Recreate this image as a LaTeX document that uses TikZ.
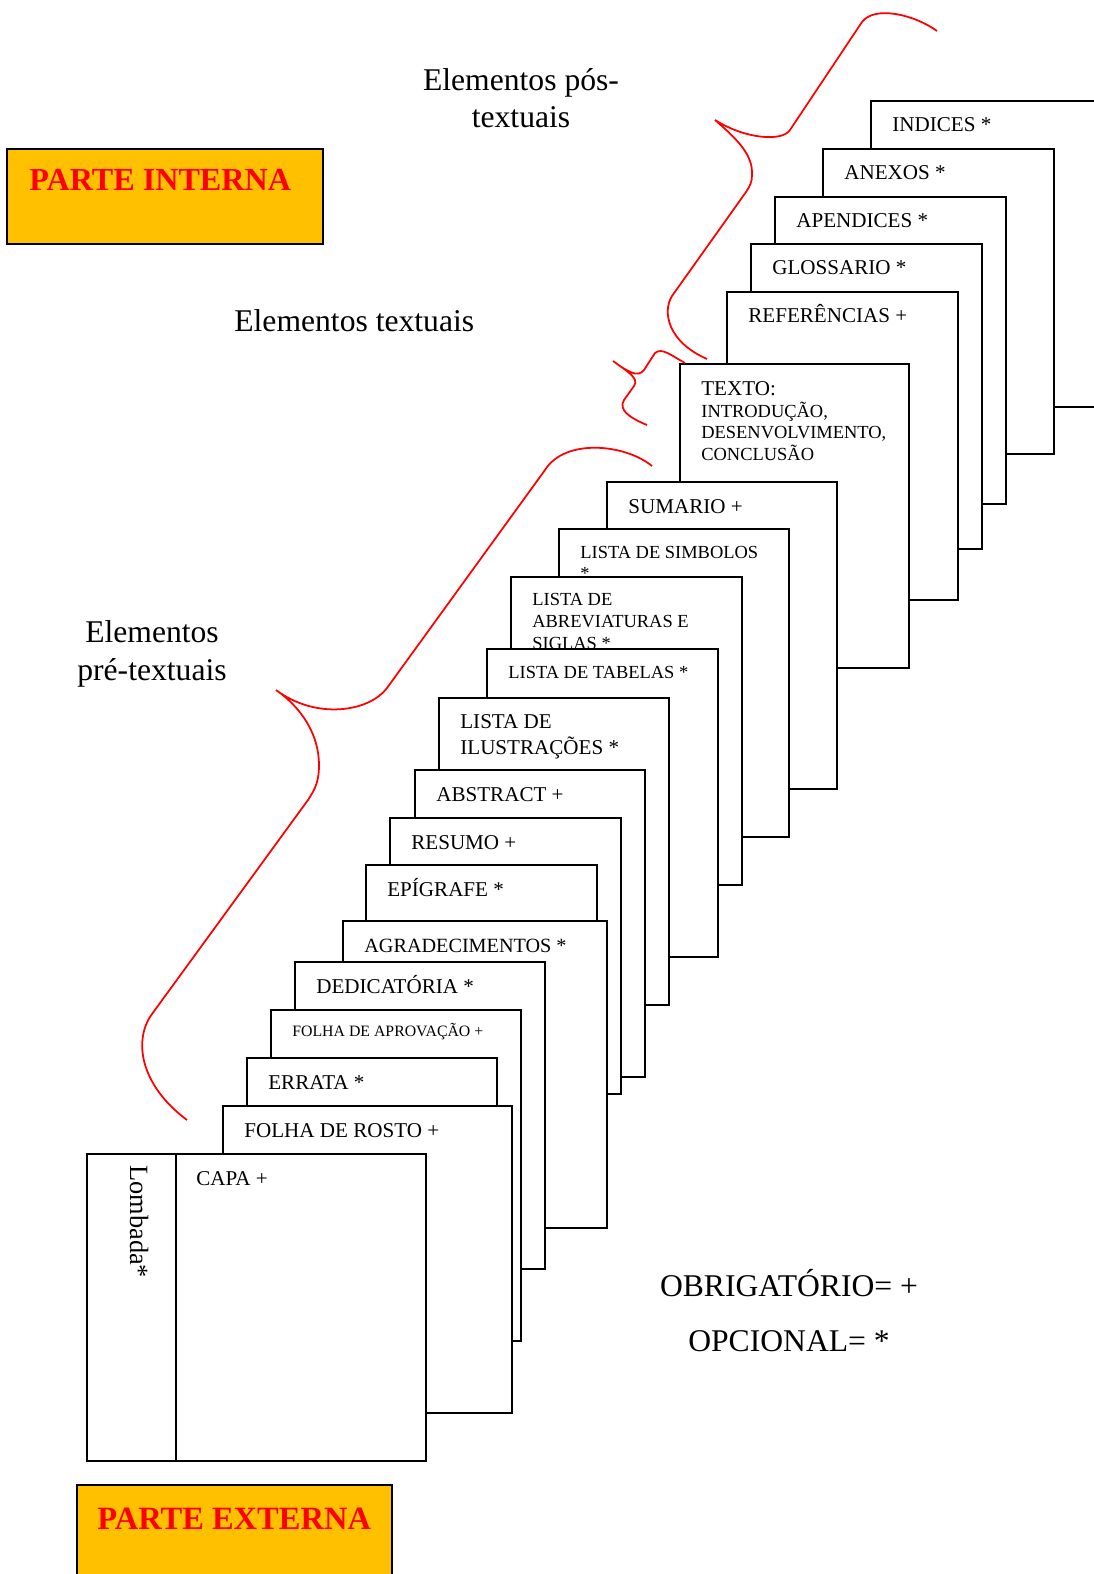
\documentclass[tikz,border=0pt]{standalone}
\usepackage{fontspec}
\setmainfont{Liberation Serif}

\definecolor{ouro}{HTML}{FFC000}
\tikzset{
  folha/.style={draw=black, fill=white, line width=1.1pt},
  rotulo/.style={anchor=base west, inner sep=0pt, align=left},
  chave/.style={draw=red, line width=1pt},
  parte/.style={draw=black, fill=ouro, line width=1.1pt},
  titulo/.style={anchor=base, inner sep=0pt, align=center, font=\fontsize{18}{21.5}\selectfont},
}

\begin{document}
\begin{tikzpicture}[x=0.02cm, y=-0.02cm]
\useasboundingbox (0,0) rectangle (1094,1574);
\clip (0,0) rectangle (1094,1574);

% folhas, da ultima para a primeira (\dy = linha de base da ultima linha)
\foreach \l/\t/\r/\b/\fs/\bs/\dy/\txt [count=\i] in {
  871/101/1130/407/12/14/31/{INDICES *},
  823/149/1054/454/12/14/31/{ANEXOS *},
  775/197/1006/504/12/14/31/{APENDICES *},
  751/244/982/549/12/14/31/{GLOSSARIO *},
  727/292/958/600/12/14/31/{REFERÊNCIAS +},
  680/364/909/668/10.5/12.3/96.6/{{\fontsize{12}{14}\selectfont TEXTO:}\\INTRODUÇÃO,\\DESENVOLVIMENTO,\\CONCLUSÃO},
  607/482/837/789/12/14/31/{SUMARIO +},
  559/529/789/837/10.5/12/50.2/{LISTA DE SIMBOLOS\\*},
  511/577/742/885/10.5/12.5/72/{LISTA DE\\ABREVIATURAS E\\SIGLAS *},
  487/649/718/957/10.5/12/29.5/{LISTA DE TABELAS *},
  439/698/669/1005/12/14.7/56/{LISTA DE\\ILUSTRAÇÕES *},
  415/770/645/1077/12/14/31/{ABSTRACT +},
  390/818/621/1094/12/14/31/{RESUMO +},
  366/865/597/1100/12/14/31/{EPÍGRAFE *},
  343/921/607/1228/11.5/14/31/{AGRADECIMENTOS *},
  295/962/545/1269/12/14/31/{DEDICATÓRIA *},
  271/1010/521/1341/9/11/26/{FOLHA DE APROVAÇÃO +},
  247/1058/497/1300/12/14/31/{ERRATA *},
  223/1106/512/1413/12/14/31/{FOLHA DE ROSTO +}
}{
  \draw[folha] (\l,\t) rectangle (\r,\b);
  \node[rotulo, font=\fontsize{\fs}{\bs}\selectfont] (f\i) at (\l+21,\t+\dy) {\txt};
}

% capa e lombada
\draw[folha] (87,1154) rectangle (426,1461);
\draw[line width=1.1pt] (176,1154) -- (176,1461);
\node[rotulo, font=\fontsize{12}{14}\selectfont] (capa) at (196,1185) {CAPA +};
\node[rotulo, rotate=-90, font=\fontsize{15}{17}\selectfont] (lombada) at (130,1165) {Lombada*};

% partes
\draw[parte] (7,149) rectangle (323,244);
\node[anchor=base west, inner sep=0pt, text=red, font=\fontsize{18.3}{21}\selectfont\bfseries] (interna) at (29,191) {PARTE INTERNA};
\draw[parte] (77,1485) rectangle (392,1600);
\node[anchor=base west, inner sep=0pt, text=red, font=\fontsize{18.5}{21}\selectfont\bfseries] (externa) at (97,1529) {PARTE EXTERNA};

% titulos
\node[titulo] (pos) at (521,128) {Elementos pós-\\textuais};
\node[titulo, anchor=base west] (textuais) at (234,332) {Elementos textuais};
\node[titulo] (pre) at (152,680) {Elementos\\pré-textuais};
\node[titulo, font=\fontsize{18}{31.2}\selectfont] (legenda) at (789,1351) {OBRIGATÓRIO= +\\OPCIONAL= *};

% chaves
\draw[chave] (937,31) .. controls (915,15) and (875,5) .. (862,22)
  -- (790,130) .. controls (782,142) and (745,139) .. (715,120)
  .. controls (738,140) and (753,155) .. (752,175)
  .. controls (752,182) and (750,186) .. (746,192)
  -- (672,296) .. controls (662,312) and (668,342) .. (707,359);
\draw[chave] (685,363) .. controls (672,356) and (662,347) .. (655,353)
  -- (644,370) .. controls (638,378) and (628,372) .. (613,361)
  .. controls (625,370) and (640,378) .. (634,386)
  -- (624,400) .. controls (618,410) and (630,418) .. (647,425);
\draw[chave] (652,466) .. controls (625,444) and (565,438) .. (545,470)
  -- (387,688) .. controls (369,712) and (316,720) .. (276,690)
  .. controls (302,708) and (319,735) .. (319,765)
  .. controls (319,780) and (316,788) .. (308,800)
  -- (152,1014) .. controls (133,1040) and (140,1085) .. (187,1120);
\end{tikzpicture}
\end{document}
